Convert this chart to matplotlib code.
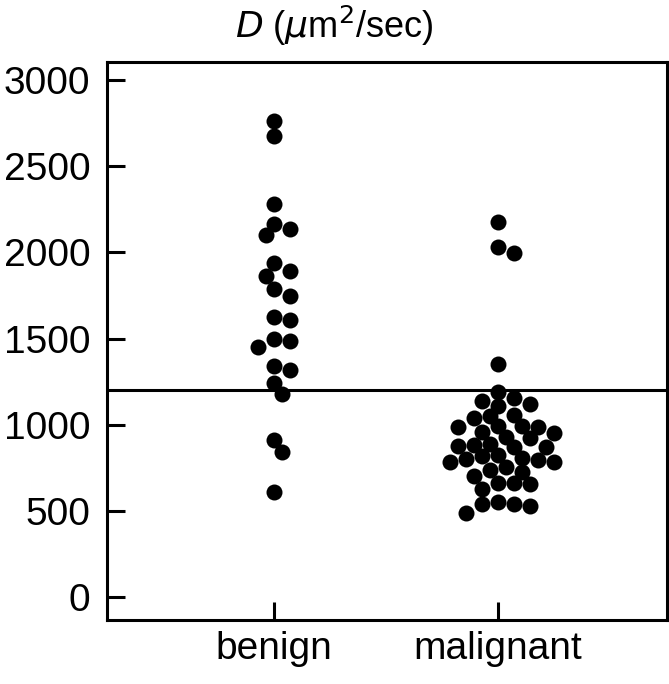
import matplotlib
matplotlib.use("Agg")
import matplotlib.pyplot as plt
import numpy as np

categories = ["benign", "malignant"]
benign = [2763, 2675, 2280, 2165, 2134, 2101, 1936, 1890, 1865, 1788, 1747,
          1623, 1608, 1496, 1484, 1453, 1342, 1317, 1240, 1176, 911, 843, 610]
malignant = [2174, 2033, 1994, 1352, 1191, 1153, 1139, 1120, 1110, 1056, 1050,
             1037, 992, 990, 988, 985, 959, 951, 930, 925, 888, 882, 878, 872,
             870, 824, 818, 808, 799, 795, 785, 782, 756, 737, 727, 700, 663,
             660, 658, 629, 551, 540, 538, 528, 489]
cutoff = 1200
yticks = [0, 500, 1000, 1500, 2000, 2500, 3000]

plt.rcParams['font.family'] = ['Liberation Sans', 'DejaVu Sans']

W, H = 669, 684
fig = plt.figure(figsize=(W / 100, H / 100), dpi=100)
ax = fig.add_axes([107 / W, (H - 620) / H, (667 - 107) / W, (620 - 62) / H])
ax.set_xlim(-0.746, 1.754)
ax.set_ylim(-133, 3104)

diam_px = 16.0
ms_pt = diam_px * 72 / 100


def swarm(values, center):
    # greedy beeswarm in pixel space
    tr = ax.transData
    cx = tr.transform((center, 0))[0]
    placed = []
    order = np.argsort(values)[::-1]
    res = [None] * len(values)
    for i in order:
        py = tr.transform((center, values[i]))[1]
        k_list = [0]
        for k in range(1, 20):
            k_list += [k, -k]
        for k in k_list:
            px = cx + k * diam_px / 2
            ok = all((px - qx) ** 2 + (py - qy) ** 2 >= (diam_px * 0.8) ** 2
                     for qx, qy in placed)
            if ok:
                break
        placed.append((px, py))
        res[i] = tr.inverted().transform((px, py))[0]
    return res

for idx, vals in enumerate([benign, malignant]):
    xs = swarm(vals, idx)
    ax.plot(xs, vals, 'o', color='black', markersize=ms_pt, markeredgewidth=0,
            zorder=3)

ax.axhline(cutoff, color='black', lw=2.2, zorder=2)

ax.set_xticks([0, 1])
ax.set_xticklabels(categories)
ax.set_yticks(yticks)
ax.tick_params(direction='in', length=13, width=2.2, labelsize=28, pad=12)
ax.tick_params(axis='x', pad=8)
for s in ax.spines.values():
    s.set_linewidth(2.2)

fig.text(0.5, 0.962, r"$\it{D}$ ($\mu$m$^2$/sec)", ha='center', va='center',
         fontsize=26)

fig.savefig("out.png", dpi=100)
